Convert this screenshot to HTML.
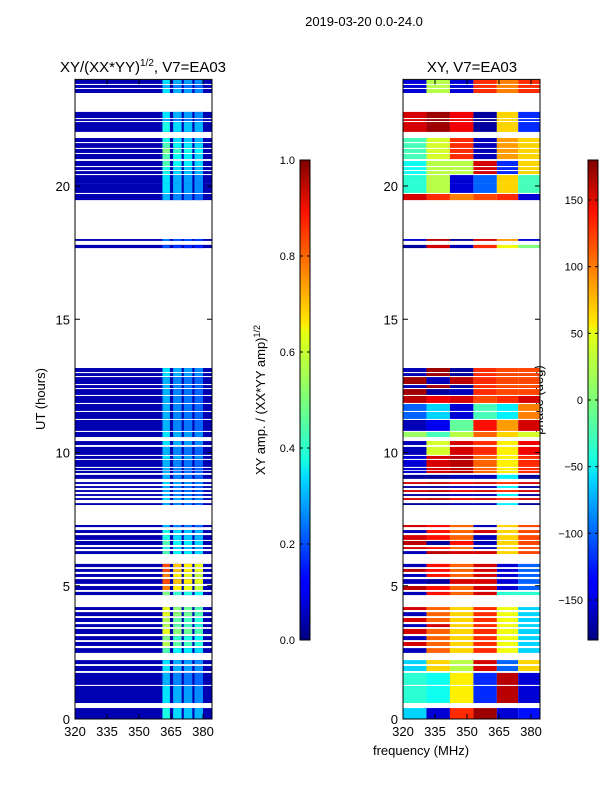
<!DOCTYPE html>
<html><head><meta charset="utf-8">
<style>
body{margin:0;background:#fff;}
svg{display:block;font-family:"Liberation Sans",sans-serif;}
</style></head>
<body>
<svg id="fig" width="600" height="800" viewBox="0 0 600 800">
<defs>
<linearGradient id="jet" x1="0" y1="1" x2="0" y2="0">
<stop offset="0" stop-color="#00007f"/><stop offset="0.11" stop-color="#0000ff"/>
<stop offset="0.125" stop-color="#0000ff"/><stop offset="0.34" stop-color="#00dbff"/>
<stop offset="0.375" stop-color="#17ffe0"/><stop offset="0.5" stop-color="#7dff7a"/>
<stop offset="0.64" stop-color="#e5ff13"/><stop offset="0.66" stop-color="#ffea00"/>
<stop offset="0.89" stop-color="#ff1300"/><stop offset="1" stop-color="#7f0000"/>
</linearGradient>
</defs>
<text x="364" y="26" font-size="13" text-anchor="middle">2019-03-20 0.0-24.0</text>
<text x="143" y="72" font-size="15" text-anchor="middle">XY/(XX*YY)<tspan font-size="10" dy="-6">1/2</tspan><tspan dy="6">, V7=EA03</tspan></text>
<text x="472" y="72" font-size="15" text-anchor="middle">XY, V7=EA03</text>
<text transform="translate(45,399) rotate(-90)" font-size="13" text-anchor="middle">UT (hours)</text>
<text transform="translate(265,400) rotate(-90)" font-size="13" text-anchor="middle">XY amp. / (XX*YY amp)<tspan font-size="9" dy="-5">1/2</tspan></text>
<text transform="translate(543,400) rotate(-90)" font-size="13" text-anchor="middle">phase (deg)</text>
<text x="421" y="755" font-size="13" text-anchor="middle">frequency (MHz)</text>
<g id="left"></g>
<g id="right"></g>
<g id="axes"></g>
<rect x="300" y="160" width="10" height="480" fill="url(#jet)" stroke="#000" stroke-width="1"/>
<rect x="588" y="160" width="10" height="480" fill="url(#jet)" stroke="#000" stroke-width="1"/>
<g id="cbticks"></g>
</svg>
<script>
const rowStart=[23.83,23.68,23.49,22.55,22.44,22.03,21.65,21.43,21.24,21.01,20.75,20.60,20.45,20.11,19.74,19.47,17.94,17.67,
13.02,12.87,12.57,12.42,12.16,11.86,11.56,11.26,10.81,10.58,10.28,9.91,9.76,9.46,9.34,9.23,9.01,8.82,8.67,8.52,8.37,8.22,8.03,
7.20,6.98,6.72,6.53,6.38,6.19,5.70,5.52,5.33,5.07,4.84,4.65,4.09,3.86,3.64,3.45,3.19,2.96,2.74,2.48,2.06,1.80,1.28,0.60,0.0];
const rowEnd=[23.98,23.79,23.64,22.78,22.51,22.40,21.80,21.61,21.39,21.20,20.94,20.71,20.56,20.41,20.11,19.70,18.01,17.79,
13.17,12.98,12.83,12.53,12.38,12.12,11.82,11.52,11.22,10.77,10.43,10.21,9.87,9.72,9.42,9.31,9.16,8.89,8.74,8.59,8.44,8.29,8.10,
7.28,7.09,6.90,6.68,6.45,6.30,5.82,5.63,5.44,5.25,4.99,4.77,4.20,4.01,3.79,3.56,3.38,3.11,2.89,2.66,2.21,1.99,1.73,1.24,0.41];
const rowAmp=[0.35,0.3,0.35,0.35,0.3,0.4,0.4,0.45,0.5,0.45,0.45,0.4,0.4,0.35,0.35,0.3,0.25,0.2,
0.35,0.35,0.3,0.3,0.3,0.3,0.3,0.3,0.3,0.35,0.35,0.3,0.35,0.3,0.3,0.3,0.3,0.35,0.3,0.3,0.3,0.35,0.3,
0.3,0.4,0.4,0.45,0.4,0.45,0.8,0.8,0.75,0.8,0.75,0.5,0.6,0.6,0.55,0.55,0.6,0.5,0.55,0.45,0.35,0.35,0.3,0.35,0.4];
const freqBins=[320,331,342,353,364,374,384.2];
const rowPhase=[
[-150,20,-150,120,90,120],[-150,20,-150,120,90,120],[-150,20,-150,120,90,120],
[150,170,140,-170,60,-120],[150,170,140,-170,60,-120],[150,170,140,-170,60,-120],
[-20,30,120,-160,80,60],[-20,30,120,-160,80,60],[-20,30,120,-160,80,60],[-20,30,120,-160,80,60],
[-40,20,20,150,-120,60],[-40,20,20,150,-120,60],[-40,20,20,150,-120,60],
[-30,20,-150,-100,60,-20],[-30,20,-150,-100,60,-20],[150,120,90,110,120,-150],
[-150,160,-170,150,80,-150],[-170,150,-160,120,40,0],
[-160,170,-170,120,110,110],[-160,170,-170,120,110,110],[170,-160,160,120,110,110],[-160,170,-170,120,110,110],[170,-170,-160,120,110,110],
[160,140,150,110,120,150],[-100,-60,-150,-20,-50,90],[-100,-60,-150,-20,-50,90],
[-160,-140,-10,130,80,150],[10,-20,20,100,60,30],
[-160,30,150,120,50,140],[-160,30,150,120,50,140],
[-150,150,160,100,50,120],[-150,150,160,100,50,120],[-150,150,160,100,50,120],[-150,150,160,100,50,120],
[-170,-170,-160,-160,-50,-170],[150,160,140,150,120,150],[-170,-170,-160,-160,-50,-170],[150,160,140,150,120,150],
[-170,-170,-160,-160,-50,-170],[150,160,140,150,120,150],[-170,-170,-160,-160,-50,-170],
[150,130,100,-160,60,110],[-160,130,100,150,60,110],[150,130,100,-160,60,110],[160,-170,130,-160,60,110],
[150,130,100,-160,60,110],[-160,160,150,150,60,110],
[-160,130,100,150,-150,-100],[160,130,100,150,-150,-100],[-160,130,100,150,-150,-100],[-160,-170,150,150,-150,-100],
[160,130,100,150,-150,-100],[-160,130,100,150,-30,-30],
[150,100,60,120,40,-60],[-160,100,60,120,40,-60],[150,100,60,120,40,-60],[-160,150,60,120,40,-60],
[150,100,60,120,40,-60],[-160,100,60,120,40,-60],[150,100,60,120,40,-60],[-160,100,60,120,40,-60],
[-60,60,20,150,-100,60],[-60,60,20,150,-100,60],
[-30,-40,50,-120,160,-150],[-30,-40,50,-120,160,-150],[-60,-150,120,170,-150,-130]];
const chanLo=[361,366,371,376];
const chanHi=[364.5,370,375,380];
const chanGain=[1.0,0.85,0.8,0.75];
const baseAmp=0.05;
const yTicks=[0,5,10,15,20];
const xTicks=[320,335,350,365,380];
const ampTicks=[0.0,0.2,0.4,0.6,0.8,1.0];
const phaseTicks=[-150,-100,-50,0,50,100,150];

const NS="http://www.w3.org/2000/svg";
const y=h=>719-h*26.65;
const xL=f=>75+(f-320)*2.1333;
const xR=f=>403+(f-320)*2.1333;
function jet(v){v=Math.max(0,Math.min(1,v));
 const r=Math.min(4*v-1.5,-4*v+4.5),g=Math.min(4*v-0.5,-4*v+3.5),b=Math.min(4*v+0.5,-4*v+2.5);
 const c=t=>Math.round(255*Math.max(0,Math.min(1,t)));return `rgb(${c(r)},${c(g)},${c(b)})`;}
function rect(p,x0,y0,w,h,fill){const r=document.createElementNS(NS,'rect');
 r.setAttribute('x',x0);r.setAttribute('y',y0);r.setAttribute('width',w);r.setAttribute('height',h);r.setAttribute('fill',fill);p.appendChild(r);return r;}
const L=document.getElementById('left'),R=document.getElementById('right');
for(let i=0;i<rowStart.length;i++){
 const y0=y(rowEnd[i]),hh=y(rowStart[i])-y0;
 let r=rect(L,xL(320),y0,xL(384.2)-xL(320),hh,jet(baseAmp));
 
 
 for(let k=0;k<chanLo.length;k++){
  r=rect(L,xL(chanLo[k]),y0,xL(chanHi[k])-xL(chanLo[k]),hh,jet(rowAmp[i]*chanGain[k]));
  
  
 }
 for(let k=0;k<freqBins.length-1;k++){
  r=rect(R,xR(freqBins[k]),y0,xR(freqBins[k+1])-xR(freqBins[k]),hh,jet((rowPhase[i][k]+180)/360));
  
  
 }
}
const A=document.getElementById('axes');
function line(p,x1,y1,x2,y2){const l=document.createElementNS(NS,'line');
 l.setAttribute('x1',x1);l.setAttribute('y1',y1);l.setAttribute('x2',x2);l.setAttribute('y2',y2);l.setAttribute('stroke','#000');p.appendChild(l);}
function text(p,x0,y0,s,anchor,name){const t=document.createElementNS(NS,'text');
 t.setAttribute('x',x0);t.setAttribute('y',y0);t.setAttribute('font-size','13');t.setAttribute('text-anchor',anchor);t.textContent=s;
 
 
 p.appendChild(t);}
[75,403].forEach((x0,pi)=>{
 const fr=rect(A,x0,y(24),137,y(0)-y(24),'none');fr.setAttribute('stroke','#000');
 
 
 const xs=pi?xR:xL;
 yTicks.forEach(t=>{line(A,x0,y(t),x0+5,y(t));line(A,x0+137,y(t),x0+132,y(t));text(A,x0-5,y(t)+5,String(t),'end','y-tick-label');});
 xTicks.forEach(t=>{line(A,xs(t),y(0),xs(t),y(0)-5);line(A,xs(t),y(24),xs(t),y(24)+5);text(A,xs(t),y(0)+17,String(t),'middle','x-tick-label');});
});
const C=document.getElementById('cbticks');
ampTicks.forEach(t=>{const yy=640-t*480;line(C,300,yy,303,yy);line(C,310,yy,307,yy);
 const tt=document.createElementNS(NS,'text');tt.setAttribute('x',295);tt.setAttribute('y',yy+4);tt.setAttribute('font-size','11');tt.setAttribute('text-anchor','end');tt.textContent=t.toFixed(1);
 
 
 C.appendChild(tt);});
phaseTicks.forEach(t=>{const yy=640-(t+180)*480/360;line(C,588,yy,591,yy);line(C,598,yy,595,yy);
 const tt=document.createElementNS(NS,'text');tt.setAttribute('x',583);tt.setAttribute('y',yy+4);tt.setAttribute('font-size','11');tt.setAttribute('text-anchor','end');tt.textContent=(t<0?'\u2212'+(-t):String(t));
 
 
 C.appendChild(tt);});
</script>
</body></html>
